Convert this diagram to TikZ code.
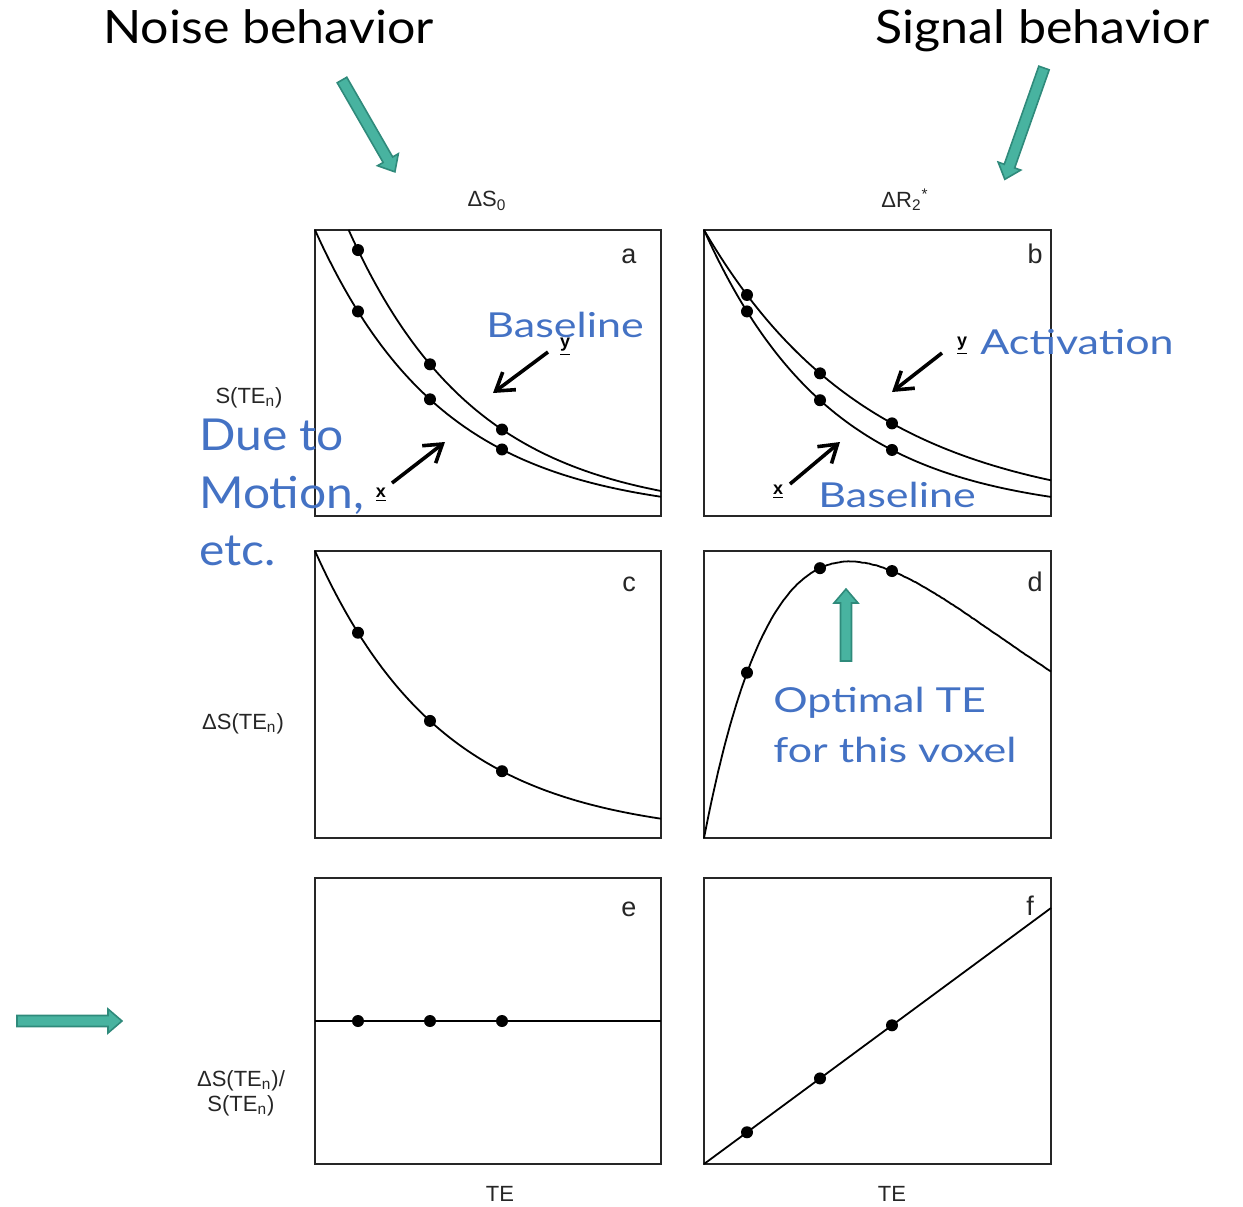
\documentclass[tikz,border=0pt]{standalone}
\usepackage{fontspec}
\setmainfont{Liberation Sans}
\newfontfamily\slidefont[FakeStretch=1.09]{Lato}
\newfontfamily\notefont[FakeStretch=1.25]{Lato}
\usetikzlibrary{arrows.meta}
\definecolor{slideblue}{HTML}{4472C4}
\definecolor{tealfill}{HTML}{48B3A0}
\definecolor{tealedge}{HTML}{2F8A7B}

% block arrow along local +x, from the scope origin, of length #1
\newcommand{\tealarrow}[1]{%
  \fill[fill=tealfill, draw=tealedge, line width=0.8pt, line join=miter]
    (0,-5.5) -- (#1-14,-5.5) -- (#1-14,-12) -- (#1,0) -- (#1-14,12)
    -- (#1-14,5.5) -- (0,5.5) -- cycle;}

\begin{document}
\begin{tikzpicture}[x=0.5pt,y=-0.5pt,
  panel/.style={draw=black!85, line width=1.2pt},
  curve/.style={line width=0.9pt},
  dot/.style={circle, fill=black, inner sep=0pt, minimum size=6pt},
  axlabel/.style={font=\fontsize{11}{12.5}\selectfont, inner sep=0pt, text=black!85},
  letter/.style={font=\fontsize{13.5}{15}\selectfont, inner sep=0pt, anchor=base, text=black!85},
  varmark/.style={font=\bfseries\fontsize{9}{10}\selectfont, inner sep=0pt},
  heading/.style={font=\slidefont\fontsize{23}{26}\selectfont, inner sep=0pt, anchor=base west},
  slidetext/.style={font=\notefont\fontsize{17.2}{20}\selectfont, text=slideblue, inner sep=0pt, anchor=base west},
  slidebig/.style={font=\slidefont\fontsize{22}{26}\selectfont, text=slideblue, inner sep=0pt, anchor=base west},
  pointer/.style={line width=1.8pt, -{Straight Barb[length=8.5pt,width=11pt]}}
]
\useasboundingbox (0,0) rectangle (1243,1206);

% ---------- headings ----------
\node[heading] (noise) at (103,43) {Noise behavior};
\node[heading] (signal) at (875,43) {Signal behavior};

% ---------- panel frames ----------
\draw[panel] (315,230) rectangle (661,516);
\draw[panel] (704,230) rectangle (1051,516);
\draw[panel] (315,551) rectangle (661,838);
\draw[panel] (704,551) rectangle (1051,838);
\draw[panel] (315,878) rectangle (661,1164);
\draw[panel] (704,878) rectangle (1051,1164);

% ---------- column and row labels ----------
\node[axlabel] (ds0) at (487,201) {ΔS\textsubscript{0}};
\node[axlabel] (dr2) at (905,200) {ΔR\textsubscript{2}\textsuperscript{*}};
\node[axlabel] (ste) at (249,398) {S(TE\textsubscript{n})};
\node[axlabel] (dste) at (243,724) {ΔS(TE\textsubscript{n})};
\node[axlabel, align=center] (ratio) at (241,1093) {ΔS(TE\textsubscript{n})/\\S(TE\textsubscript{n})};
\node[axlabel] (tel) at (500,1194) {TE};
\node[axlabel] (ter) at (892,1194) {TE};

% ---------- panel letters ----------
\node[letter] (la) at (629,263) {a};
\node[letter] (lb) at (1035,263) {b};
\node[letter] (lc) at (629,591) {c};
\node[letter] (ld) at (1035,591) {d};
\node[letter] (le) at (629,916) {e};
\node[letter] (lf) at (1030,915) {f};

% ---------- panel a: S0 change ----------
\draw[curve] plot[domain=0:346, samples=120] ({315+\x},{516-286*exp(-0.0078*\x)});
\draw[curve] plot[domain=33.6:346, samples=120] ({315+\x},{516-371.8*exp(-0.0078*\x)});
\foreach \t in {43,115,187} {
  \node[dot] at ({315+\t},{516-286*exp(-0.0078*\t)}) {};
  \node[dot] at ({315+\t},{516-371.8*exp(-0.0078*\t)}) {};
}

% ---------- panel b: R2* change ----------
\draw[curve] plot[domain=0:347, samples=120] ({704+\x},{516-286*exp(-0.0078*\x)});
\draw[curve] plot[domain=0:347, samples=120] ({704+\x},{516-286*exp(-0.006*\x)});
\foreach \t in {43,116,188} {
  \node[dot] at ({704+\t},{516-286*exp(-0.0078*\t)}) {};
  \node[dot] at ({704+\t},{516-286*exp(-0.006*\t)}) {};
}

% ---------- panel c ----------
\draw[curve] plot[domain=0:346, samples=120] ({315+\x},{838-287*exp(-0.0078*\x)});
\foreach \t in {43,115,187}
  \node[dot] at ({315+\t},{838-287*exp(-0.0078*\t)}) {};

% ---------- panel d ----------
\draw[curve] plot[domain=0:347, samples=150] ({704+\x},{838-2870*(exp(-0.006*\x)-exp(-0.0078*\x))});
\foreach \t in {43,116,188}
  \node[dot] at ({704+\t},{838-2870*(exp(-0.006*\t)-exp(-0.0078*\t))}) {};

% ---------- panel e ----------
\draw[curve] (315,1021) -- (661,1021);
\foreach \xx in {358,430,502}
  \node[dot] at (\xx,1021) {};

% ---------- panel f ----------
\draw[curve] (704,1164) -- (1051,908);
\foreach \t in {43,116,188}
  \node[dot] at ({704+\t},{1164-0.7378*\t}) {};

% ---------- x / y markers with pointers ----------
\node[varmark] (ya) at (565,347) {\underline{y}};
\node[varmark] (xa) at (381,495) {\underline{x}};
\node[varmark] (yb) at (962,346) {\underline{y}};
\node[varmark] (xb) at (778,492) {\underline{x}};
\coordinate (pa1s) at (548,352); \coordinate (pa1e) at (493,393);
\coordinate (pa2s) at (392,483); \coordinate (pa2e) at (445,442);
\coordinate (pb1s) at (942,353); \coordinate (pb1e) at (892,392);
\coordinate (pb2s) at (790,484); \coordinate (pb2e) at (840,442);
\draw[pointer] (pa1s) -- (pa1e);
\draw[pointer] (pa2s) -- (pa2e);
\draw[pointer] (pb1s) -- (pb1e);
\draw[pointer] (pb2s) -- (pb2e);

% ---------- blue annotations ----------
\node[slidetext] (basea) at (486,337) {Baseline};
\node[slidetext] (activ) at (980,354) {Activation};
\node[slidetext] (baseb) at (818,507) {Baseline};
\node[slidebig] (due) at (199,450) {Due to};
\node[slidebig] (motion) at (199,508) {Motion,};
\node[slidebig] (etc) at (199,565) {etc.};
\node[slidetext] (opt1) at (773,712) {Optimal TE};
\node[slidetext] (opt2) at (773,762) {for this voxel};

% ---------- teal block arrows ----------
\coordinate (noisetail) at (342,80);
\coordinate (signaltail) at (1044,68);
\coordinate (rowtail) at (17,1021);
\coordinate (opttail) at (846,661);
\begin{scope}[shift={(noisetail)}, rotate=-60.06] \tealarrow{106} \end{scope}
\begin{scope}[shift={(signaltail)}, rotate=-109.4] \tealarrow{118} \end{scope}
\begin{scope}[shift={(rowtail)}] \tealarrow{105} \end{scope}
\begin{scope}[shift={(opttail)}, rotate=90] \tealarrow{72} \end{scope}
\end{tikzpicture}
\end{document}
